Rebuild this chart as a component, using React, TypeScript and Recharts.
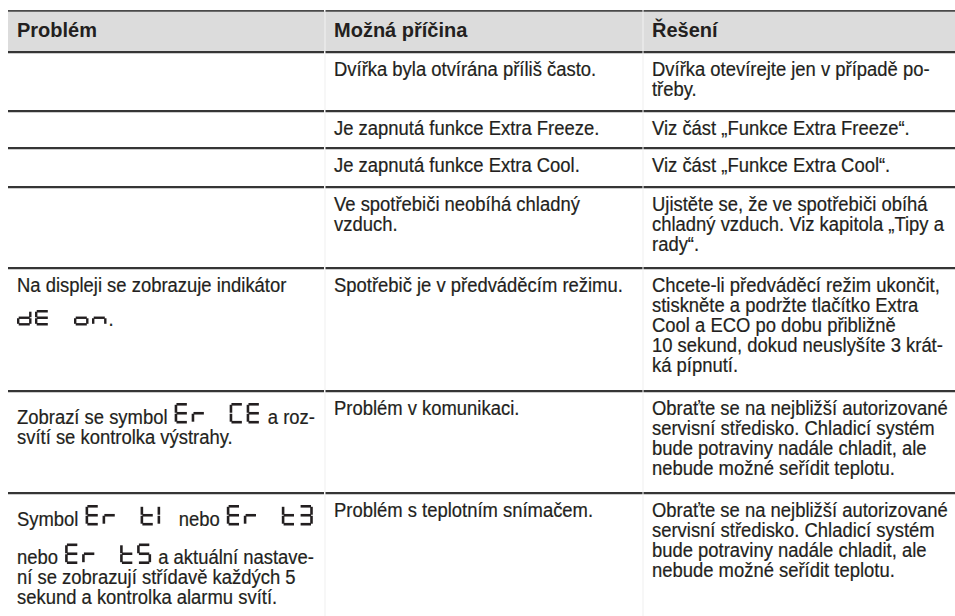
import React from 'react';
import { Surface, Layer, Rectangle } from 'recharts';

// table content, one entry per row
const headers = ['Problém', 'Možná příčina', 'Řešení'];

// {..} = large display symbol, [..] = small display symbol
const problemLines: string[][] = [
  [],
  [],
  [],
  [],
  ['Na displeji se zobrazuje indikátor', '[dE on].'],
  ['Zobrazí se symbol {Er CE} a roz-', 'svítí se kontrolka výstrahy.'],
  [
    'Symbol {Er t1} nebo {Er t3}',
    'nebo {Er t5} a aktuální nastave-',
    'ní se zobrazují střídavě každých 5',
    'sekund a kontrolka alarmu svítí.',
  ],
];

const causeLines: string[][] = [
  ['Dvířka byla otvírána příliš často.'],
  ['Je zapnutá funkce Extra Freeze.'],
  ['Je zapnutá funkce Extra Cool.'],
  ['Ve spotřebiči neobíhá chladný', 'vzduch.'],
  ['Spotřebič je v předváděcím režimu.'],
  ['Problém v komunikaci.'],
  ['Problém s teplotním snímačem.'],
];

const solutionLines: string[][] = [
  ['Dvířka otevírejte jen v případě po-', 'třeby.'],
  ['Viz část „Funkce Extra Freeze“.'],
  ['Viz část „Funkce Extra Cool“.'],
  ['Ujistěte se, že ve spotřebiči obíhá', 'chladný vzduch. Viz kapitola „Tipy a', 'rady“.'],
  [
    'Chcete-li předváděcí režim ukončit,',
    'stiskněte a podržte tlačítko Extra',
    'Cool a ECO po dobu přibližně',
    '10 sekund, dokud neuslyšíte 3 krát-',
    'ká pípnutí.',
  ],
  [
    'Obraťte se na nejbližší autorizované',
    'servisní středisko. Chladicí systém',
    'bude potraviny nadále chladit, ale',
    'nebude možné seřídit teplotu.',
  ],
  [
    'Obraťte se na nejbližší autorizované',
    'servisní středisko. Chladicí systém',
    'bude potraviny nadále chladit, ale',
    'nebude možné seřídit teplotu.',
  ],
];

// seven segment letters
const SEGS: Record<string, string> = {
  d: 'bcdeg',
  E: 'adefg',
  o: 'cdeg',
  n: 'ceg',
  r: 'eg',
  C: 'adef',
  t: 'defg',
  '1': 'bc',
  '3': 'abcdg',
  '5': 'acdfg',
};

const W = 955;
const H = 616;
const COLS = [8, 325, 643, 955];
const ROW_TOPS = [52, 111, 148, 187, 268, 391, 493];
const PAD = 9;
const FONT = '"Liberation Sans", Arial, sans-serif';
const BODY_SIZE = 19.5;
const SX = 0.945;
const HEAD_SIZE = 20;
const INK = '#231f20';
const RULE = '#353535';

const TOP_LINE = 11;
const HEADER_BOTTOM = 52;
const FIRST = 24;
const LEAD = 20;

const BIG = { h: 20.5, w: 14, pitch: 17, space: 21, t: 2.6, margin: 2 };
const SMALL = { h: 15.5, w: 14.5, pitch: 18, space: 21, t: 2.4, margin: 2 };

let ctx: CanvasRenderingContext2D | null = null;
const measure = (s: string, size: number, weight = 'normal') => {
  if (!ctx) ctx = document.createElement('canvas').getContext('2d');
  if (!ctx) return s.length * size * 0.5;
  ctx.font = `${weight} ${size}px "Liberation Sans"`;
  return ctx.measureText(s).width;
};

const glyphHeight = (line: string) =>
  line.includes('{') ? BIG.h : line.includes('[') ? SMALL.h : 0;

const problemBaselines = (lines: string[], top: number) => {
  const out: number[] = [];
  lines.forEach((line, k) => {
    const gh = glyphHeight(line);
    if (k === 0) out.push(top + (gh ? 12 + gh : FIRST));
    else out.push(out[k - 1] + (gh ? gh + 18 : LEAD));
  });
  return out;
};

const Glyph = ({ ch, x, bottom, g }: { ch: string; x: number; bottom: number; g: typeof BIG }) => {
  const { h, w, t } = g;
  const top = bottom - h;
  const mid = top + h / 2;
  const gap = 0.5;
  const hx = x + t * 0.5 + gap;
  const hw = w - t - 2 * gap;
  const vh = h / 2 - t / 2 - 2 * gap;
  const left = x;
  const right = ch === '1' ? x : x + w - t;
  const boxes: Record<string, number[]> = {
    a: [hx, top, hw, t],
    g: [hx, mid - t / 2, hw, t],
    d: [hx, bottom - t, hw, t],
    f: [left, top + t / 2 + gap, t, vh],
    e: [left, mid + gap, t, vh],
    b: [right, top + t / 2 + gap, t, vh],
    c: [right, mid + gap, t, vh],
  };
  return (
    <Layer>
      {(SEGS[ch] || '').split('').map((s) => {
        const [rx, ry, rw, rh] = boxes[s];
        return <Rectangle key={s} x={rx} y={ry} width={rw} height={rh} fill={INK} />;
      })}
    </Layer>
  );
};

const BodyText = ({ x, y, children }: { x: number; y: number; children: string }) => (
  <text
    transform={`translate(${x},${y}) scale(${SX},1)`}
    fontFamily={FONT}
    fontSize={BODY_SIZE}
    fill={INK}
    stroke={INK}
    strokeWidth={0.2}
    style={{ whiteSpace: 'pre' }}
  >
    {children}
  </text>
);

const Line = ({ line, x0, base }: { line: string; x0: number; base: number }) => {
  const tokens = line.split(/(\{[^}]*\}|\[[^\]]*\])/).filter((s) => s !== '');
  const parts: React.ReactNode[] = [];
  let x = x0;
  tokens.forEach((tok, ti) => {
    if (tok[0] === '{' || tok[0] === '[') {
      const g = tok[0] === '{' ? BIG : SMALL;
      if (x > x0) x += g.margin;
      let last = x;
      tok
        .slice(1, -1)
        .split('')
        .forEach((ch, ci) => {
          if (ch === ' ') {
            x += g.space;
          } else {
            parts.push(<Glyph key={`${ti}-${ci}`} ch={ch} x={x} bottom={base} g={g} />);
            last = x;
            x += g.pitch;
          }
        });
      x = last + g.w + g.margin;
    } else {
      parts.push(
        <BodyText key={`${ti}`} x={x} y={base}>
          {tok}
        </BodyText>
      );
      x += measure(tok, BODY_SIZE) * SX;
    }
  });
  return <Layer>{parts}</Layer>;
};

const Rule = ({ y, h, color }: { y: number; h: number; color: string }) => (
  <Layer>
    {COLS.slice(0, 3).map((c, i) => (
      <Rectangle
        key={i}
        x={i === 0 ? c : c + 0.5}
        y={y}
        width={COLS[i + 1] - c - (i === 2 ? 0 : 1)}
        height={h}
        fill={color}
      />
    ))}
  </Layer>
);

export default function App() {
  return (
    <div style={{ position: 'absolute', left: 0, top: 0, width: W, height: H, background: '#fff' }}>
      <Surface width={W} height={H} viewBox={{ x: 0, y: 0, width: W, height: H }}>
        {/* header band */}
        <Rectangle x={COLS[0]} y={TOP_LINE} width={W - COLS[0]} height={HEADER_BOTTOM - TOP_LINE} fill='#dcdcdc' />
        {COLS.slice(1, 3).map((c) => (
          <Rectangle key={c} x={c - 0.5} y={TOP_LINE} width={1} height={HEADER_BOTTOM - TOP_LINE} fill='#f2f2f2' />
        ))}
        {COLS.slice(1, 3).map((c) => (
          <Rectangle key={`b${c}`} x={c - 0.5} y={HEADER_BOTTOM} width={1} height={H - HEADER_BOTTOM} fill='#f0f0f0' />
        ))}
        <Rule y={TOP_LINE - 1} h={1.8} color='#4a4a4a' />
        <Rule y={HEADER_BOTTOM - 1} h={2.2} color={RULE} />
        {headers.map((t, i) => (
          <text
            key={t}
            x={COLS[i] + PAD}
            y={37}
            fontFamily={FONT}
            fontSize={HEAD_SIZE}
            fontWeight='bold'
            fill={INK}
          >
            {t}
          </text>
        ))}

        {ROW_TOPS.map((top, i) => {
          const pBase = problemBaselines(problemLines[i], top);
          return (
            <Layer key={i}>
              {i > 0 && <Rule y={top - 1} h={2.2} color={RULE} />}
              {problemLines[i].map((l, k) => (
                <Line key={`p${k}`} line={l} x0={COLS[0] + PAD} base={pBase[k]} />
              ))}
              {causeLines[i].map((l, k) => (
                <Line key={`c${k}`} line={l} x0={COLS[1] + PAD} base={top + FIRST + k * LEAD} />
              ))}
              {solutionLines[i].map((l, k) => (
                <Line key={`s${k}`} line={l} x0={COLS[2] + PAD} base={top + FIRST + k * LEAD} />
              ))}
            </Layer>
          );
        })}
      </Surface>
    </div>
  );
}
